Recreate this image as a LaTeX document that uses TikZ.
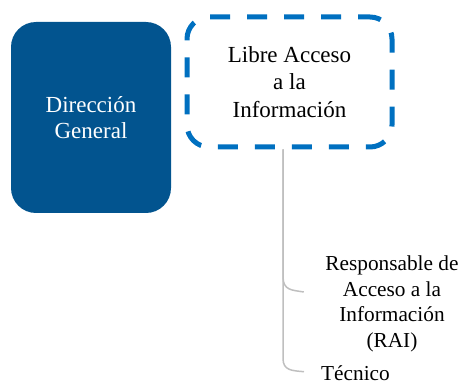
\documentclass[tikz,border=0pt]{standalone}
\usepackage{fontspec}
\setmainfont{Liberation Serif}
\definecolor{dirblue}{RGB}{2,84,143}
\definecolor{dashblue}{RGB}{0,112,192}
\definecolor{conngray}{RGB}{191,191,191}
\begin{document}
\begin{tikzpicture}[x=1pt,y=-1pt,
	dirbox/.style={fill=dirblue, rounded corners=25pt, minimum width=160pt, minimum height=191pt,
		text=white, align=center, inner sep=0pt, font=\fontsize{23}{26.5}\selectfont},
	accbox/.style={draw=dashblue, line width=5pt, dash pattern=on 20pt off 17pt, dash phase=8pt,
		rounded corners=22pt, minimum width=205pt, minimum height=130pt,
		align=center, inner sep=0pt, font=\fontsize{23}{27.5}\selectfont},
	subtext/.style={align=center, inner sep=0pt, font=\fontsize{21.3}{25.7}\selectfont},
	conn/.style={draw=conngray, line width=1.5pt}]
	\useasboundingbox (0,0) rectangle (461,385);
	% boxes
	\node[dirbox] (dirgen) at (91,117.5) {Dirección\\General};
	\node[accbox] (acceso) at (289.5,82) {Libre Acceso\\a la\\Información};
	% children
	\node[subtext] (rai) at (392,304) {Responsable de\\Acceso a la\\Información\\(RAI)};
	\node[subtext, anchor=base west] (tec) at (321,380) {Técnico};
	% connectors
	\draw[conn] ([xshift=-6.5pt]acceso.south) -- ++(0,127)
		.. controls +(0,14) and +(-12,-2) .. ([xshift=-21.5pt,yshift=12pt]rai.west);
	\draw[conn] ([xshift=-6.5pt]acceso.south) -- ++(0,209)
		.. controls +(0,12) and +(-12,-1) .. ([xshift=-17pt,yshift=1pt]tec.west);
\end{tikzpicture}
\end{document}
